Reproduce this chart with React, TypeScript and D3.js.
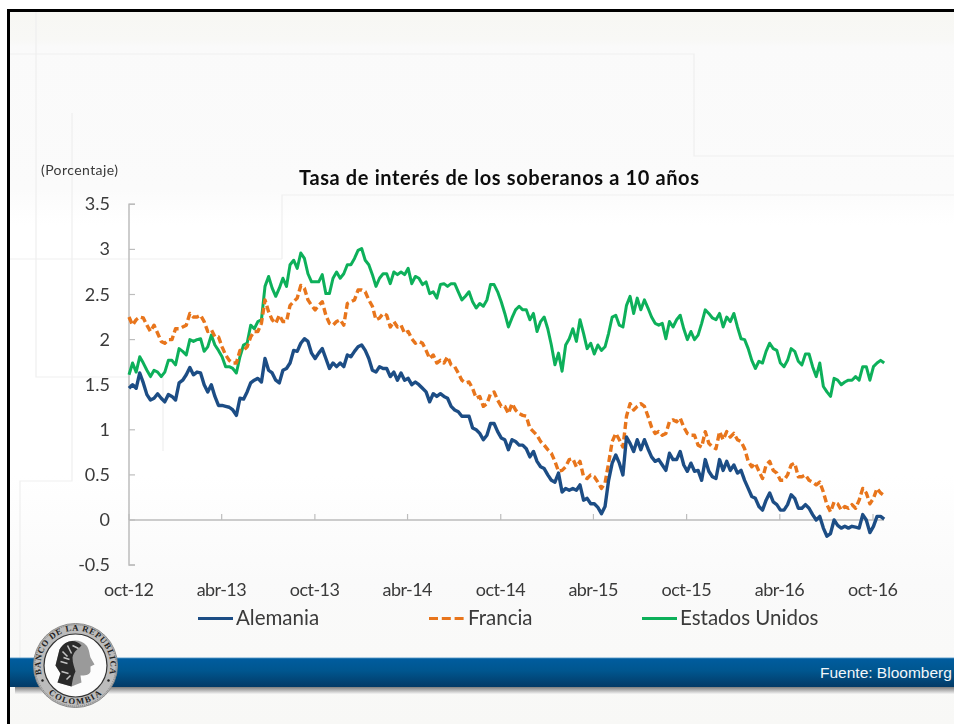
import React from "react";
import * as d3 from "d3";

const alemania = [1.46,1.50,1.46,1.63,1.52,1.39,1.33,1.35,1.40,1.35,1.31,1.39,1.37,1.33,1.52,1.55,1.61,1.69,1.61,1.64,1.63,1.50,1.42,1.50,1.37,1.27,1.27,1.26,1.25,1.22,1.16,1.35,1.34,1.42,1.52,1.55,1.57,1.53,1.79,1.66,1.63,1.55,1.52,1.66,1.68,1.74,1.88,1.87,1.96,2.01,1.98,1.85,1.79,1.85,1.90,1.79,1.68,1.74,1.70,1.74,1.70,1.83,1.81,1.87,1.92,1.94,1.88,1.79,1.66,1.64,1.70,1.68,1.68,1.59,1.64,1.55,1.63,1.55,1.57,1.50,1.53,1.50,1.46,1.42,1.31,1.40,1.37,1.40,1.37,1.35,1.26,1.22,1.20,1.15,1.15,1.15,1.02,1.00,0.96,0.89,0.94,1.07,1.07,0.98,0.91,0.89,0.78,0.89,0.87,0.83,0.83,0.79,0.70,0.76,0.65,0.59,0.57,0.50,0.44,0.42,0.52,0.31,0.35,0.33,0.35,0.33,0.39,0.22,0.24,0.18,0.18,0.14,0.07,0.15,0.44,0.63,0.72,0.63,0.50,0.92,0.85,0.76,0.89,0.78,0.89,0.79,0.70,0.65,0.67,0.61,0.55,0.74,0.67,0.67,0.76,0.61,0.54,0.63,0.54,0.55,0.44,0.67,0.54,0.48,0.46,0.67,0.55,0.65,0.55,0.61,0.52,0.55,0.44,0.35,0.26,0.24,0.15,0.11,0.22,0.30,0.20,0.17,0.11,0.11,0.17,0.28,0.24,0.13,0.13,0.17,0.13,0.06,0,0.04,-0.09,-0.18,-0.15,0,-0.06,-0.09,-0.07,-0.09,-0.07,-0.08,-0.09,0.06,0,-0.14,-0.07,0.04,0.04,0.01];

const francia = [2.25,2.16,2.22,2.25,2.24,2.16,2.09,2.16,2.07,1.98,1.96,2.00,2.00,2.12,2.12,2.14,2.16,2.29,2.25,2.25,2.27,2.20,2.09,2.11,2.03,2.03,1.92,1.83,1.77,1.74,1.74,1.88,1.88,1.92,2.03,2.09,2.09,2.18,2.44,2.31,2.22,2.18,2.27,2.20,2.20,2.38,2.42,2.46,2.60,2.57,2.44,2.38,2.33,2.38,2.42,2.27,2.18,2.16,2.20,2.22,2.16,2.40,2.42,2.44,2.55,2.55,2.53,2.44,2.37,2.22,2.24,2.29,2.27,2.14,2.20,2.14,2.16,2.07,2.09,2.01,1.96,1.98,1.96,1.88,1.79,1.83,1.74,1.77,1.74,1.81,1.72,1.70,1.63,1.55,1.52,1.53,1.46,1.35,1.37,1.26,1.29,1.40,1.42,1.33,1.26,1.26,1.18,1.29,1.22,1.18,1.16,1.15,1.02,0.98,0.94,0.87,0.83,0.78,0.74,0.65,0.54,0.55,0.59,0.67,0.68,0.59,0.65,0.48,0.46,0.50,0.48,0.42,0.35,0.41,0.63,0.87,0.96,0.89,0.81,1.15,1.29,1.22,1.26,1.29,1.26,1.15,1.03,0.96,0.98,0.94,0.96,1.09,1.11,1.09,1.13,1.03,0.96,0.94,0.94,0.83,0.81,0.98,0.85,0.81,0.79,0.98,0.89,0.98,0.92,0.96,0.89,0.87,0.79,0.65,0.59,0.63,0.54,0.46,0.61,0.65,0.55,0.52,0.44,0.44,0.50,0.61,0.63,0.48,0.48,0.50,0.44,0.42,0.39,0.42,0.31,0.17,0.09,0.20,0.18,0.11,0.15,0.13,0.17,0.13,0.22,0.35,0.30,0.18,0.24,0.35,0.30,0.27];

const estadosUnidos = [1.61,1.74,1.64,1.81,1.74,1.66,1.59,1.66,1.64,1.59,1.64,1.77,1.77,1.72,1.90,1.87,1.83,2.00,1.98,2.00,2.01,1.87,1.92,2.05,1.94,1.88,1.81,1.70,1.70,1.68,1.63,1.81,1.94,1.96,2.16,2.12,2.20,2.22,2.59,2.70,2.57,2.48,2.57,2.68,2.59,2.83,2.88,2.79,2.96,2.90,2.73,2.64,2.64,2.64,2.72,2.51,2.51,2.68,2.75,2.68,2.73,2.83,2.83,2.90,2.99,3.01,2.88,2.83,2.72,2.59,2.68,2.73,2.73,2.62,2.75,2.72,2.75,2.72,2.79,2.62,2.70,2.68,2.61,2.64,2.51,2.53,2.46,2.61,2.62,2.59,2.62,2.62,2.53,2.44,2.48,2.53,2.42,2.35,2.40,2.37,2.44,2.61,2.61,2.53,2.42,2.29,2.14,2.24,2.33,2.37,2.33,2.33,2.22,2.29,2.09,2.20,2.25,2.12,1.94,1.72,1.85,1.65,1.94,2.01,2.12,1.98,2.22,2.07,1.90,1.96,1.84,1.94,1.88,1.92,2.07,2.25,2.27,2.16,2.14,2.38,2.48,2.29,2.46,2.33,2.44,2.35,2.25,2.18,2.16,2.18,2.01,2.20,2.14,2.22,2.27,2.12,2.00,2.09,2.00,2.05,2.18,2.33,2.29,2.24,2.22,2.29,2.14,2.25,2.20,2.29,2.14,2.01,2.00,1.90,1.77,1.68,1.76,1.74,1.87,1.96,1.90,1.88,1.74,1.70,1.77,1.90,1.87,1.76,1.72,1.84,1.84,1.70,1.59,1.74,1.48,1.42,1.37,1.57,1.55,1.50,1.53,1.55,1.55,1.59,1.55,1.70,1.70,1.55,1.70,1.74,1.77,1.74];

const firstDate = Date.UTC(2012, 9, 1);
const lastDate = Date.UTC(2016, 9, 23);
const yTicks = [3.5, 3, 2.5, 2, 1.5, 1, 0.5, 0, -0.5];
const xTickLabels = ["oct-12", "abr-13", "oct-13", "abr-14", "oct-14", "abr-15", "oct-15", "abr-16", "oct-16"];
const xTickDates = [[2012, 9], [2013, 3], [2013, 9], [2014, 3], [2014, 9], [2015, 3], [2015, 9], [2016, 3], [2016, 9]];
const title = "Tasa de interés de los soberanos a 10 años";
const unitLabel = "(Porcentaje)";
const sourceLabel = "Fuente: Bloomberg";
const seriesNames = ["Alemania", "Francia", "Estados Unidos"];

const FONT = "Lato, 'Noto Sans', sans-serif";
const AXIS = "#bdbdbd";
const INK = "#3a3a3a";

const x = d3.scaleUtc().domain([Date.UTC(2012, 9, 1), Date.UTC(2016, 9, 1)]).range([129, 873]);
const y = d3.scaleLinear().domain([0, 3.5]).range([520, 204.3]);
const sampleDates = alemania.map((_, i) => firstDate + (i * (lastDate - firstDate)) / (alemania.length - 1));
const line = d3.line<number>().x((_, i) => x(sampleDates[i])).y((v) => y(v));

const series = [
  { name: seriesNames[0], values: alemania, color: "#1f4e85", width: 3.4, dash: undefined, lx: 198, tx: 236 },
  { name: seriesNames[1], values: francia, color: "#e8741a", width: 3.4, dash: "7 3.5", lx: 429, tx: 468 },
  { name: seriesNames[2], values: estadosUnidos, color: "#0bb05a", width: 3, dash: undefined, lx: 642, tx: 680 },
];

const ghostLines = [
  "M10 54H694V156H954", "M282 259V195H954", "M10 259H282", "M36 12V377H130", "M72 113V481H20V660", "M163 377V451",
];

function Seal() {
  return (
    <g transform="translate(75.5,665.5)">
      <circle r="42" fill="#bcbcbc" stroke="#8a8a8a" strokeWidth="1" />
      <circle r="40.6" fill="none" stroke="#6f6f6f" strokeWidth="0.8" strokeDasharray="1 1" />
      <circle r="31.5" fill="#fcfcfc" stroke="#333" strokeWidth="1.2" />
      <defs>
        <path id="sealTop" d="M-34 8.5A35 35 0 1 1 34 8.5" />
        <path id="sealBottom" d="M-33 20.5A39 39 0 0 0 33 20.5" />
      </defs>
      <text fontFamily="'Liberation Serif', serif" fontWeight="700" fontSize="8.6" fill="#222" letterSpacing="0.75">
        <textPath href="#sealTop" startOffset="50%" textAnchor="middle">BANCO DE LA REPUBLICA</textPath>
      </text>
      <text fontFamily="'Liberation Serif', serif" fontWeight="700" fontSize="8.6" fill="#222" letterSpacing="1.4">
        <textPath href="#sealBottom" startOffset="50%" textAnchor="middle">COLOMBIA</textPath>
      </text>
      <circle cx="-33" cy="15" r="1.2" fill="#222" />
      <circle cx="33" cy="15" r="1.2" fill="#222" />
      <path d="M-16 -16C-10 -26 4 -28 11 -20C14 -16 14 -11 15 -8L19 -1L15 1L15 6C14 10 9 10 5 10L6 17L-4 21L-18 17L-15 8L-20 0Z" fill="#9a9a9a" />
      <path d="M-16 -16C-10 -26 0 -27 6 -20C2 -16 -2 -14 -3 -8C-3 -2 -1 2 0 6C-3 12 -3 17 -4 21L-18 17L-15 8L-20 0Z" fill="#2a2a2a" />
      <path d="M-13 -14L-8 -9M-8 -20L-4 -12M-15 -4L-8 -2M-14 6L-7 8M-9 14L-5 10M-3 -20L3 -17M-12 -8L-6 -6" stroke="#c4c4c4" strokeWidth="1.5" fill="none" />
    </g>
  );
}

export default function App() {
  return (
    <svg width={954} height={724} style={{ position: "fixed", left: 0, top: 0, background: "#fff" }}>
      <defs>
        <linearGradient id="page" x1="0" x2="0" y1="0" y2="1">
          <stop offset="0" stopColor="#f7f7f3" />
          <stop offset="0.04" stopColor="#f8f8f6" />
          <stop offset="0.05" stopColor="#fafafa" />
          <stop offset="0.25" stopColor="#fbfbfb" />
          <stop offset="0.3" stopColor="#ffffff" />
          <stop offset="0.65" stopColor="#ffffff" />
          <stop offset="0.8" stopColor="#fafafa" />
          <stop offset="1" stopColor="#f8f8f6" />
        </linearGradient>
        <linearGradient id="band" x1="0" x2="0" y1="0" y2="1">
          <stop offset="0" stopColor="#6aa6cf" />
          <stop offset="0.05" stopColor="#005c9e" />
          <stop offset="0.45" stopColor="#00568f" />
          <stop offset="1" stopColor="#033a66" />
        </linearGradient>
        <linearGradient id="shadow" x1="0" x2="0" y1="0" y2="1">
          <stop offset="0" stopColor="#7d7d7d" />
          <stop offset="1" stopColor="#f4f4f4" />
        </linearGradient>
        <filter id="soft" x="-2%" y="-2%" width="104%" height="104%">
          <feGaussianBlur stdDeviation="0.35" />
        </filter>
      </defs>

      <rect x={9} y={11} width={945} height={713} fill="url(#page)" />
      {ghostLines.map((d) => (
        <path key={d} d={d} fill="none" stroke="#efefef" strokeWidth={1.2} />
      ))}
      <path d="M8.5 724V10.5H954" fill="none" stroke="#000" strokeWidth={3} />

      <g filter="url(#soft)">
        <text x={299} y={185} fontFamily={FONT} fontWeight={700} fontSize={20} fill="#111" textLength={400}>{title}</text>
        <text x={41} y={175} fontFamily={FONT} fontSize={14} fill={INK} textLength={77}>{unitLabel}</text>

        <path d={`M135 ${y(3.5)}H129V${y(-0.5)}H135`} fill="none" stroke={AXIS} strokeWidth={1.5} />
        {yTicks.map((t) => (
          <g key={t}>
            <line x1={129} x2={135} y1={y(t)} y2={y(t)} stroke={AXIS} strokeWidth={1.2} />
            <text x={110} y={y(t) + 6} textAnchor="end" fontFamily={FONT} fontSize={18} fill={INK}>{t}</text>
          </g>
        ))}
        <line x1={129} x2={x(Date.UTC(2016, 9, 1)) + 11} y1={y(0)} y2={y(0)} stroke={AXIS} strokeWidth={1.4} />
        {xTickLabels.map((label, i) => {
          const px = x(Date.UTC(xTickDates[i][0], xTickDates[i][1], 1));
          return (
            <g key={label}>
              <line x1={px} x2={px} y1={y(0)} y2={y(0) - 6} stroke={AXIS} strokeWidth={1.2} />
              <text x={px} y={596} textAnchor="middle" fontFamily={FONT} fontSize={18} fill={INK} textLength={50}>{label}</text>
            </g>
          );
        })}

        {[series[2], series[1], series[0]].map((s) => (
          <path key={s.name} d={line(s.values) ?? ""} fill="none" stroke={s.color} strokeWidth={s.width} strokeDasharray={s.dash} strokeLinejoin="round" />
        ))}

        {series.map((s) => (
          <g key={s.name}>
            <line x1={s.lx} x2={s.lx + 35} y1={618.5} y2={618.5} stroke={s.color} strokeWidth={2.8} strokeDasharray={s.dash ? "9 3.8" : undefined} />
            <text x={s.tx} y={625} fontFamily={FONT} fontSize={20.5} fill={INK}>{s.name}</text>
          </g>
        ))}
      </g>

      <rect x={15} y={687} width={939} height={7} fill="url(#shadow)" />
      <rect x={10} y={657.5} width={944} height={29.5} fill="url(#band)" />
      <text x={820} y={677.5} fontFamily="'Liberation Sans', Arial, sans-serif" fontSize={15.5} fill="#f2f6fa">{sourceLabel}</text>
      <Seal />
    </svg>
  );
}
